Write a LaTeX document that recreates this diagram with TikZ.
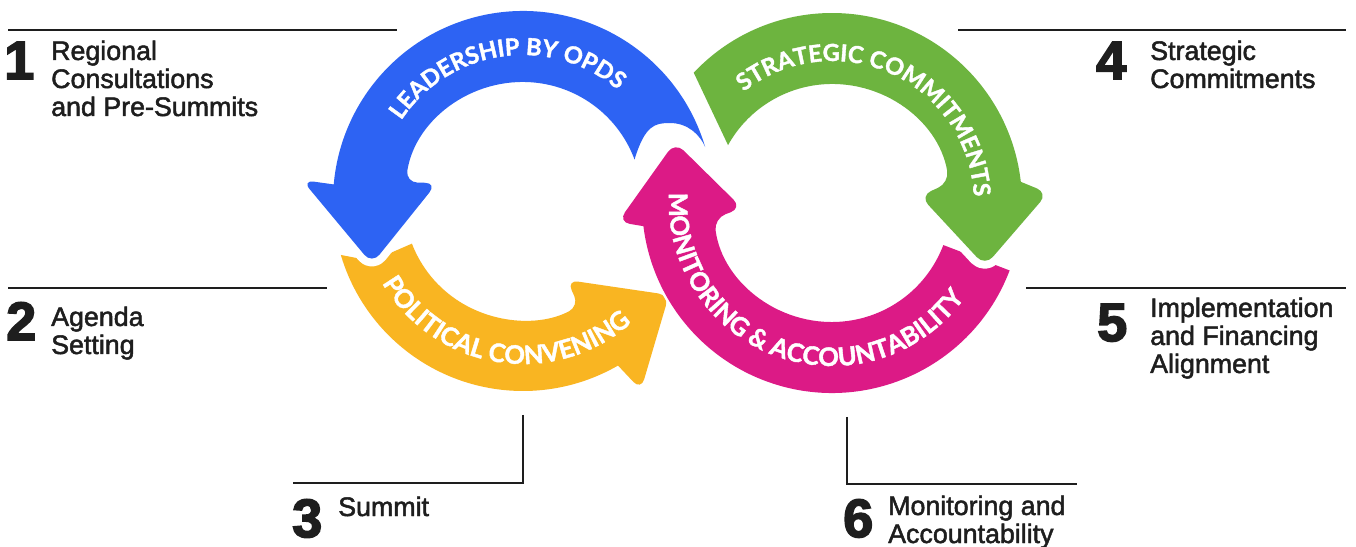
\documentclass[tikz,border=0pt]{standalone}
\usepackage{fontspec}
\setmainfont{Liberation Sans}
\newfontfamily\lblfont{Liberation Sans}[FakeBold=1.8]
\newfontfamily\numfont{Liberation Sans}[BoldFeatures={FakeBold=3}]
\newfontfamily\arcfont{Lato}[BoldFeatures={FakeBold=1.6}]
\usetikzlibrary{decorations.text}
\definecolor{cblue}{HTML}{2D63F3}
\definecolor{cgreen}{HTML}{6DB43F}
\definecolor{cyellow}{HTML}{F9B522}
\definecolor{cmag}{HTML}{DC1A86}
\definecolor{ink}{HTML}{1E1E1E}
\begin{document}
\begin{tikzpicture}[x=1pt,y=1pt,
  lead/.style={draw=ink, line width=2pt},
  num/.style={inner sep=0pt, anchor=base west, font=\numfont\bfseries\fontsize{54}{54}\selectfont, text=ink},
  lbl/.style={inner sep=0pt, anchor=base west, align=left, font=\lblfont\fontsize{26.8}{28}\selectfont, text=ink},
  halo/.style={draw=white, line width=#1, line join=round}]
\useasboundingbox (0,0) rectangle (1356,546);
\fill[white] (0,0) rectangle (1356,546);
\coordinate (L) at (523,345);
\coordinate (R) at (832,343);
% yellow
\path[fill=cyellow, preaction={halo=4pt}]
 ([shift={(L)}]196.5:190) arc[start angle=196.5, end angle=300, radius=190]
 [rounded corners=11pt] -- (641,156) -- (669,251) -- (567,266) -- ([shift={(L)}]298:119) [sharp corners]
 arc[start angle=298, end angle=201, radius=119] -- (372,285) -- cycle;
% blue
\path[fill=cblue, preaction={halo=16pt}]
 ([shift={(L)}]16.5:190) arc[start angle=16.5, end angle=175, radius=190]
 [rounded corners=12pt] -- (302,366) -- (372,282) -- (437,363) -- ([shift={(L)}]171:119) [sharp corners]
 arc[start angle=171, end angle=20.4, radius=119]
 .. controls (645,421) and (655,423) .. (670,423) .. controls (688,423) and (700,411) .. (705.2,399) -- cycle;
% magenta
\path[fill=cmag, preaction={halo=5pt}]
 ([shift={(R)}]-20.8:190) arc[start angle=-20.8, end angle=-173, radius=190]
 [rounded corners=12pt] -- (618,324) -- (675,404) -- (742,338) -- ([shift={(R)}]-172.5:119) [sharp corners]
 arc[start angle=-172.5, end angle=-20.7, radius=119] -- (985,285) -- cycle;
% green
\path[fill=cgreen, preaction={halo=16pt}]
 ([shift={(R)}]136.7:190) arc[start angle=136.7, end angle=6.4, radius=190]
 [rounded corners=12pt] -- (1048,353) -- (985,280) -- (920,350) -- ([shift={(R)}]9.8:119) [sharp corners]
 arc[start angle=9.8, end angle=150.9, radius=119] -- cycle;
% arc texts
\path[decorate, decoration={text along path, text align=center, text color=white,
  text={|\arcfont\bfseries\fontsize{23.5}{23.5}\selectfont|LEADERSHIP BY OPDS}}]
  ([shift={(L)}]178:146) arc[start angle=178, end angle=18, radius=146];
\path[decorate, decoration={text along path, text align=center, text color=white,
  text={|\arcfont\bfseries\fontsize{23.5}{23.5}\selectfont|STRATEGIC COMMITMENTS}}]
  ([shift={(R)}]145:142) arc[start angle=145, end angle=-14, radius=142];
\path[decorate, decoration={text along path, text align=center, text color=white,
  text={|\arcfont\bfseries\fontsize{25.5}{25.5}\selectfont|POLITICAL CONVENING}}]
  ([shift={(L)}]181:163) arc[start angle=181, end angle=341, radius=163];
\path[decorate, decoration={text along path, text align=center, text color=white,
  text={|\arcfont\bfseries\fontsize{25.5}{25.5}\selectfont|MONITORING {\&} ACCOUNTABILITY}}]
  ([shift={(R)}]165.5:163) arc[start angle=165.5, end angle=335.5, radius=163];
% leader lines
\coordinate (l1a) at (8,516); \coordinate (l1b) at (397,516);
\coordinate (l2a) at (8,258); \coordinate (l2b) at (327,258);
\coordinate (l3a) at (523,131); \coordinate (l3b) at (523,63); \coordinate (l3c) at (293,63);
\coordinate (l4a) at (958,516); \coordinate (l4b) at (1346,516);
\coordinate (l5a) at (1026,258); \coordinate (l5b) at (1346,258);
\coordinate (l6a) at (847,129); \coordinate (l6b) at (847,62); \coordinate (l6c) at (1077,62);
\draw[lead] (l1a) -- (l1b);
\draw[lead] (l2a) -- (l2b);
\draw[lead] (l3a) -- (l3b) -- (l3c);
\draw[lead] (l4a) -- (l4b);
\draw[lead] (l5a) -- (l5b);
\draw[lead] (l6a) -- (l6b) -- (l6c);
% labels (anchor = baseline of last line)
\node[num] (n1) at (4,467) {1};
\node[lbl] (t1) at (51,430) {Regional\\Consultations\\and Pre-Summits};
\node[num] (n2) at (6,206) {2};
\node[lbl] (t2) at (51,192) {Agenda\\Setting};
\node[num] (n3) at (292,9) {3};
\node[lbl] (t3) at (338,30) {Summit};
\node[num] (n4) at (1096,467) {4};
\node[lbl] (t4) at (1150,458) {Strategic\\Commitments};
\node[num] (n5) at (1097,205) {5};
\node[lbl] (t5) at (1150,173) {Implementation\\and Financing\\Alignment};
\node[num] (n6) at (843,9) {6};
\node[lbl] (t6) at (888,3) {Monitoring and\\Accountability};
\end{tikzpicture}
\end{document}
